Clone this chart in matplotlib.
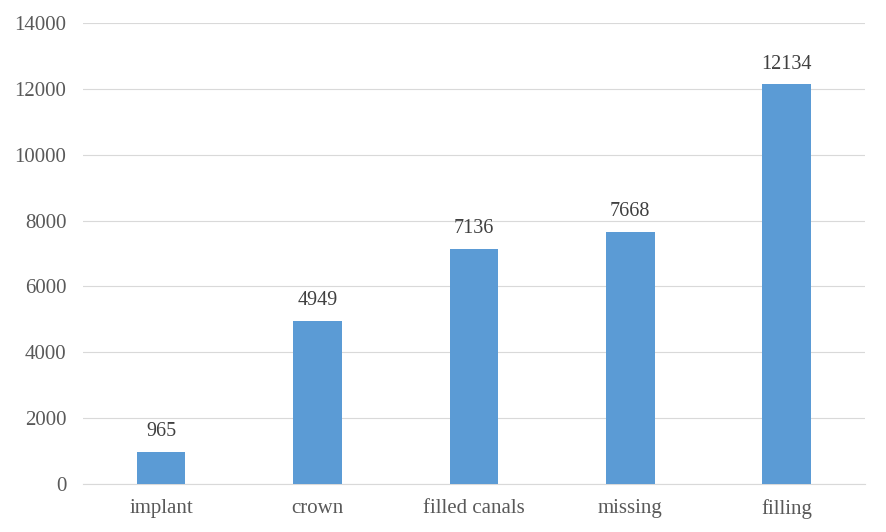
import matplotlib.pyplot as plt

categories = ["implant", "crown", "filled canals", "missing", "filling"]
counts = [965, 4949, 7136, 7668, 12134]

plt.rcParams['font.family'] = ['Liberation Serif', 'DejaVu Serif']

fig = plt.figure(figsize=(8.87, 5.32), dpi=100)
ax = fig.add_axes([0.0936, 0.0902, 0.8814, 0.8666])

x = range(len(categories))
bars = ax.bar(x, counts, width=0.31, color='#5B9BD5', zorder=3)
for b, v in zip(bars, counts):
    ax.text(b.get_x() + b.get_width() / 2, v + 330, str(v),
            ha='center', va='bottom', fontsize=14.5, color='#404040')

ax.set_xlim(-0.5, len(categories) - 0.5)
ax.set_ylim(0, 14000)
ax.set_yticks(range(0, 14001, 2000))
ax.set_xticks(list(x))
ax.set_xticklabels(categories)
ax.yaxis.grid(True, color='#D9D9D9', linewidth=0.8, zorder=0)
ax.tick_params(axis='both', length=0, labelsize=15, colors='#595959')
ax.tick_params(axis='x', pad=11)
ax.tick_params(axis='y', pad=12)
for s in ['top', 'right', 'left']:
    ax.spines[s].set_visible(False)
ax.spines['bottom'].set_color('#D9D9D9')

fig.savefig('out.png', dpi=100)
